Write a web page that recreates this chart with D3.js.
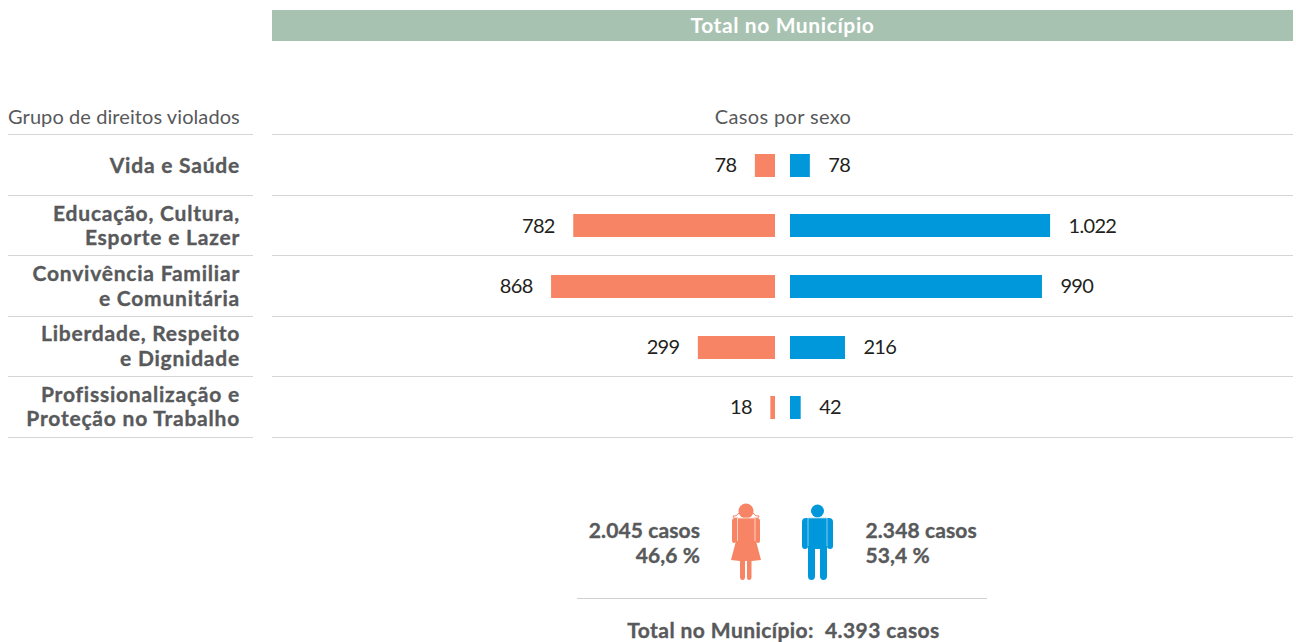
<!DOCTYPE html>
<html><head><meta charset="utf-8">
<script src="https://cdn.jsdelivr.net/npm/d3@7"></script>
<style>html,body{margin:0;padding:0;background:#fff}svg{display:block}text{font-family:Lato,"Open Sans",sans-serif}.b{stroke:#58595b;stroke-width:.35px}</style>
</head><body><svg id="c" width="1296" height="642"></svg>
<script>
const categories=[["Vida e Saúde"],["Educação, Cultura,","Esporte e Lazer"],["Convivência Familiar","e Comunitária"],["Liberdade, Respeito","e Dignidade"],["Profissionalização e","Proteção no Trabalho"]];
const female=[78,782,868,299,18];
const male=[78,1022,990,216,42];
const femaleLabels=["78","782","868","299","18"];
const maleLabels=["78","1.022","990","216","42"];
const title="Total no Município";
const leftHead="Grupo de direitos violados";
const rightHead="Casos por sexo";
const femaleTotal=["2.045 casos","46,6 %"];
const maleTotal=["2.348 casos","53,4 %"];
const grandTotal="Total no Município:  4.393 casos";
const cF="#f78565",cM="#0098db",grey="#58595b",rule="#d4d6d5";

const svg=d3.select("#c");
svg.append("rect").attr("x",272).attr("y",10).attr("width",1021).attr("height",31).attr("fill","#a8c2b2");
svg.append("text").attr("x",782.5).attr("y",33).attr("text-anchor","middle").attr("font-size",21).attr("letter-spacing",.6).attr("font-weight",700).attr("fill","#fff").text(title);
svg.append("text").attr("x",8).attr("y",123.5).attr("font-size",20).attr("letter-spacing",.08).attr("fill",grey).text(leftHead);
svg.append("text").attr("x",783).attr("y",123.5).attr("text-anchor","middle").attr("font-size",20).attr("letter-spacing",.35).attr("fill",grey).text(rightHead);

const y=d3.scaleBand().domain(d3.range(categories.length)).range([134.5,437.5]);
const yLabel=d3.scaleBand().domain(d3.range(categories.length)).range([134.5,436]);
const xF=d3.scaleLinear().domain([0,1000]).range([775,517]);
const xM=d3.scaleLinear().domain([0,1000]).range([790,1044.5]);
const barH=23;
const lines=[134.5,...categories.map((_,i)=>y(i)+y.bandwidth())];
lines.forEach(v=>{
  const ly=Math.floor(v)+.5;
  svg.append("line").attr("x1",8).attr("x2",253).attr("y1",ly).attr("y2",ly).attr("stroke",rule);
  svg.append("line").attr("x1",272).attr("x2",1293).attr("y1",ly).attr("y2",ly).attr("stroke",rule);
});
categories.forEach((c,i)=>{
  const cy=y(i)+y.bandwidth()/2, ly=yLabel(i)+yLabel.bandwidth()/2;
  const t=svg.append("text").attr("class","b").attr("text-anchor","end").attr("font-size",21).attr("letter-spacing",.78).attr("font-weight",700).attr("fill",grey);
  c.forEach((s,k)=>t.append("tspan").attr("x",240).attr("y",ly+8+(k-(c.length-1)/2)*24.5).text(s));
  const by=Math.round(cy-barH/2+.4);
  svg.append("rect").attr("x",xF(female[i])).attr("y",by).attr("width",xF(0)-xF(female[i])).attr("height",barH).attr("fill",cF);
  svg.append("rect").attr("x",xM(0)).attr("y",by).attr("width",xM(male[i])-xM(0)).attr("height",barH).attr("fill",cM);
  svg.append("text").attr("x",xF(female[i])-18.5).attr("y",cy+7.2).attr("text-anchor","end").attr("font-size",20).attr("letter-spacing",-.7).attr("fill","#231f20").text(femaleLabels[i]);
  svg.append("text").attr("x",xM(male[i])+18.5).attr("y",cy+7.2).attr("font-size",20).attr("letter-spacing",-.7).attr("fill","#231f20").text(maleLabels[i]);
});
// icons
const girl=svg.append("g").attr("fill",cF);
girl.append("circle").attr("cx",746).attr("cy",511).attr("r",7.5);
girl.append("path").attr("d","M732 521 Q732 518 735 518 L757 518 Q760 518 760 521 L760 541 Q760 543 758 543 Q756 543 756 541 L761 560 L751.5 561 L751.5 577 Q751.5 580 749 580 Q747 580 747 577 L747 561 L745 561 L745 577 Q745 580 742.5 580 Q740 580 740 577 L740 561 L731 560 L736 541 Q736 543 734 543 Q732 543 732 541 Z");
girl.append("path").attr("d","M739 513 Q736 517 733 516 Q733 519 738 518 M753 513 Q756 517 759 516 Q759 519 754 518").attr("stroke",cF).attr("stroke-width",1).attr("fill","none");
[[737.5,518,737.5,541],[755,518,755,541],[737.5,518,755,518]].forEach(d=>girl.append("line").attr("x1",d[0]).attr("y1",d[1]).attr("x2",d[2]).attr("y2",d[3]).attr("stroke","#fde3da").attr("stroke-width",.8));
const boy=svg.append("g").attr("fill",cM);
boy.append("circle").attr("cx",817.5).attr("cy",511).attr("r",6.5);
boy.append("path").attr("d","M802 522 Q802 518 806 518 L829 518 Q833 518 833 522 L833 546 Q833 549 830 549 Q827 549 827 546 L827 576 Q827 580 823.5 580 Q820 580 820 576 L820 549 L815 549 L815 576 Q815 580 811.5 580 Q808 580 808 576 L808 546 Q808 549 805 549 Q802 549 802 546 Z");
[[808,518,808,546],[827,518,827,546],[808,518,827,518]].forEach(d=>boy.append("line").attr("x1",d[0]).attr("y1",d[1]).attr("x2",d[2]).attr("y2",d[3]).attr("stroke","#a6daf2").attr("stroke-width",.8));

femaleTotal.forEach((s,k)=>svg.append("text").attr("class","b").attr("x",700).attr("y",538+k*24.5).attr("text-anchor","end").attr("font-size",21).attr("letter-spacing",.1).attr("font-weight",700).attr("fill",grey).text(s));
maleTotal.forEach((s,k)=>svg.append("text").attr("class","b").attr("x",865.5).attr("y",538+k*24.5).attr("font-size",21).attr("letter-spacing",.1).attr("font-weight",700).attr("fill",grey).text(s));
svg.append("line").attr("x1",577).attr("x2",987).attr("y1",598.5).attr("y2",598.5).attr("stroke","#cfd0d0").attr("stroke-width",1.2);
svg.append("text").attr("class","b").attr("x",783.5).attr("y",638).attr("text-anchor","middle").attr("font-size",21).attr("letter-spacing",.42).attr("font-weight",700).attr("fill",grey).style("white-space","pre").text(grandTotal);
</script></body></html>
